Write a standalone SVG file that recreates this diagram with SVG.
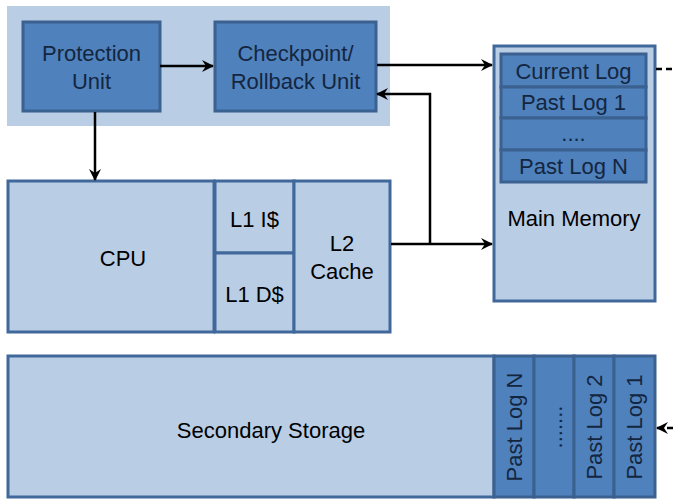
<svg xmlns="http://www.w3.org/2000/svg" width="673" height="500" viewBox="0 0 673 500">
<style>
.lt{fill:#b9cde5;stroke:#41689a;stroke-width:3}
.dk{fill:#4f81bd;stroke:#3b6190;stroke-width:3}
.t{font-family:"Liberation Sans",Arial,sans-serif;font-size:22px;fill:#000;text-anchor:middle;dominant-baseline:central}
.td{fill:#14263f}
.c{fill:none;stroke:#000;stroke-width:2.5}
.d{fill:none;stroke:#000;stroke-width:2.5;stroke-dasharray:6 4}
</style>
<defs>
<marker id="a" viewBox="0 0 12 12" refX="11" refY="6" markerWidth="12" markerHeight="12" markerUnits="userSpaceOnUse" orient="auto">
<path d="M0,0 L12,6 L0,12 L4,6 Z" fill="#000"/>
</marker>
</defs>
<rect x="7" y="6" width="383" height="120" fill="#b9cde5"/>
<g id="protection">
<rect class="dk" x="23" y="22" width="137" height="89"/>
<text class="t td" x="91.5" y="53">Protection</text>
<text class="t td" x="91.5" y="81">Unit</text>
</g>
<g id="checkpoint">
<rect class="dk" x="215" y="22" width="161" height="89"/>
<text class="t td" x="295.5" y="53">Checkpoint/</text>
<text class="t td" x="295.5" y="81">Rollback Unit</text>
</g>
<g id="cpu">
<rect class="lt" x="8" y="181" width="206" height="151"/>
<text class="t" x="123" y="258">CPU</text>
</g>
<g id="l1i">
<rect class="lt" x="215" y="181" width="79" height="72"/>
<text class="t" x="254.5" y="219">L1 I$</text>
</g>
<g id="l1d">
<rect class="lt" x="215" y="253" width="79" height="79"/>
<text class="t" x="254.5" y="294">L1 D$</text>
</g>
<g id="l2">
<rect class="lt" x="294" y="181" width="96" height="151"/>
<text class="t" x="342" y="243">L2</text>
<text class="t" x="342" y="271">Cache</text>
</g>
<g id="mainmem">
<rect class="lt" x="494" y="46" width="161" height="255"/>
<text class="t" x="574" y="218">Main Memory</text>
</g>
<g id="currentlog">
<rect class="dk" x="501" y="54" width="145" height="33"/>
<text class="t td" x="573.5" y="71">Current Log</text>
</g>
<g id="pastlog1">
<rect class="dk" x="501" y="87" width="145" height="31"/>
<text class="t td" x="573.5" y="102">Past Log 1</text>
</g>
<g id="dots">
<rect class="dk" x="501" y="118" width="145" height="32"/>
<text class="t td" x="573.5" y="133">....</text>
</g>
<g id="pastlogn">
<rect class="dk" x="501" y="150" width="145" height="32"/>
<text class="t td" x="573.5" y="166">Past Log N</text>
</g>
<g id="secondary">
<rect class="lt" x="8" y="356" width="486" height="141"/>
<text class="t" x="271" y="430">Secondary Storage</text>
</g>
<g id="sPastLogN">
<rect class="dk" x="494" y="356" width="40" height="141"/>
<text class="t td" transform="translate(514,427) rotate(-90)">Past Log N</text>
</g>
<g id="sDots">
<rect class="dk" x="534" y="356" width="40" height="141"/>
<text class="t td" transform="translate(554,427) rotate(-90)">.......</text>
</g>
<g id="sPastLog2">
<rect class="dk" x="574" y="356" width="40" height="141"/>
<text class="t td" transform="translate(594,427) rotate(-90)">Past Log 2</text>
</g>
<g id="sPastLog1">
<rect class="dk" x="614" y="356" width="41" height="141"/>
<text class="t td" transform="translate(634.5,427) rotate(-90)">Past Log 1</text>
</g>
<g id="connectors">
<path class="c" d="M160,66 H213" marker-end="url(#a)"/>
<path class="c" d="M95,112 V180" marker-end="url(#a)"/>
<path class="c" d="M377,65 H492" marker-end="url(#a)"/>
<path class="c" d="M391,244 H492" marker-end="url(#a)"/>
<path class="c" d="M430,244 V94 H377" marker-end="url(#a)"/>
<path class="d" d="M656,69 H673"/>
<path class="d" d="M673,428 H657" marker-end="url(#a)"/>
</g>
</svg>
